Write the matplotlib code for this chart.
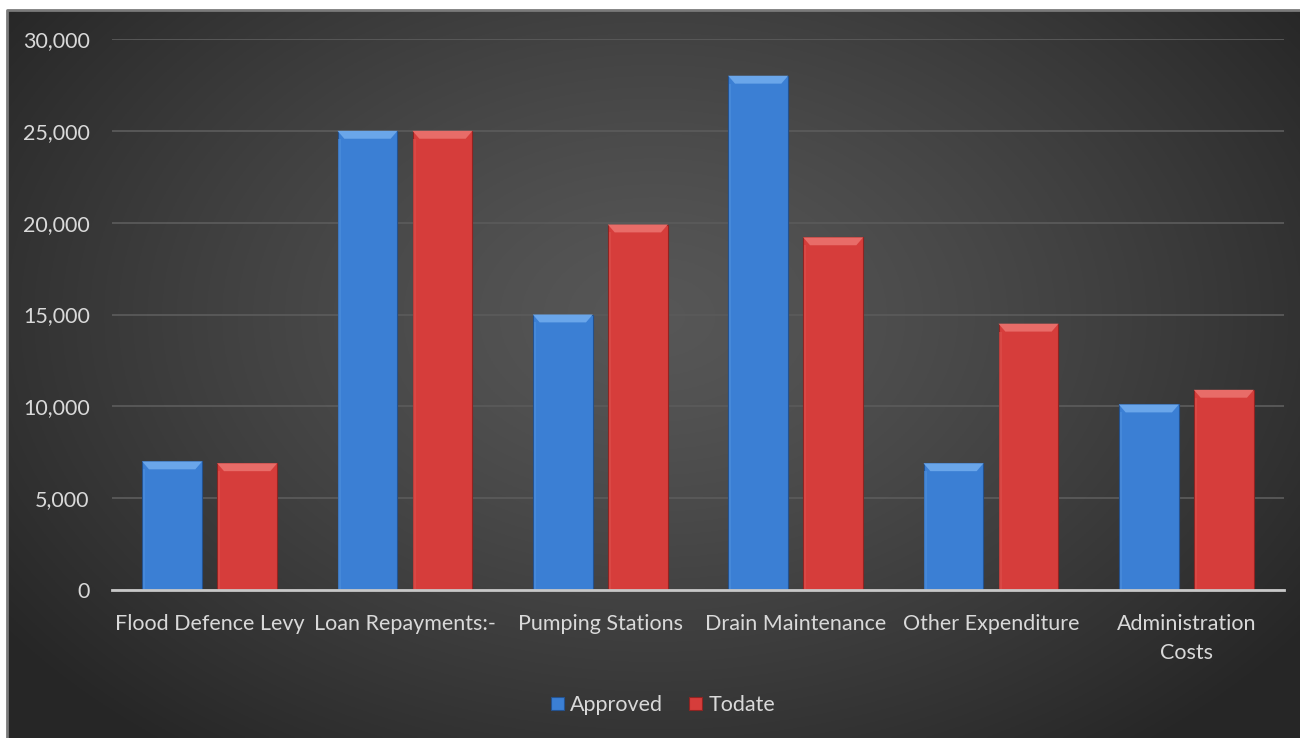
import numpy as np
import matplotlib
matplotlib.use("Agg")
import matplotlib.pyplot as plt
from matplotlib.patches import Polygon, Rectangle
from matplotlib.ticker import FuncFormatter

categories = ["Flood Defence Levy", "Loan Repayments:-", "Pumping Stations",
              "Drain Maintenance", "Other Expenditure", "Administration\nCosts"]
approved = [7000, 25000, 15000, 28000, 6900, 10100]
todate = [6900, 25000, 19900, 19200, 14500, 10900]
series_names = ["Approved", "Todate"]
yticks = [0, 5000, 10000, 15000, 20000, 25000, 30000]

plt.rcParams['font.family'] = ['Lato', 'DejaVu Sans']
TXT = "#d9d9d9"

fig = plt.figure(figsize=(13, 7.38), dpi=100)
fig.patch.set_facecolor("white")

# background panel with radial gradient
bg = fig.add_axes([7/1300, 0, 1 - 7/1300, 1 - 10/738])
bg.set_axis_off()
h, w = 400, 700
yy, xx = np.mgrid[0:h, 0:w]
cx, cy = w * 0.5, h * 0.42
r = np.sqrt(((xx - cx) / (w * 0.62)) ** 2 + ((yy - cy) / (h * 0.75)) ** 2)
r = np.clip(r, 0, 1)
v = 0.34 - (0.34 - 0.15) * r ** 1.3
img = np.dstack([v, v, v])
bg.imshow(img, aspect="auto", extent=[0, 1, 0, 1], origin="upper")
bg.set_xlim(0, 1); bg.set_ylim(0, 1)
bg.plot([0, 0, 1], [0, 1, 1], color="#7a7a7a", lw=2, transform=bg.transAxes, clip_on=False)

ax = fig.add_axes([112/1300, 1 - 590/738, (1284 - 112)/1300, (590 - 39)/738])
ax.patch.set_alpha(0)
x = np.arange(len(categories))
bw = 0.307
off = 0.192
b1 = ax.bar(x - off, approved, bw, color="#3b7fd4", edgecolor="#24528f", lw=0.8, zorder=3)
b2 = ax.bar(x + off, todate, bw, color="#d63d3b", edgecolor="#8f2422", lw=0.8, zorder=3)

ax.set_ylim(0, 30000)
ax.set_xlim(-0.5, len(categories) - 0.5)
ax.set_yticks(yticks)
ax.yaxis.set_major_formatter(FuncFormatter(lambda v, p: f"{int(v):,}"))
ax.set_xticks(x)
ax.set_xticklabels(categories, color=TXT, fontsize=15.5, linespacing=1.6)
ax.tick_params(axis="y", colors=TXT, labelsize=15.5, length=0, pad=16)
ax.tick_params(axis="x", length=0, pad=17)
for s in ["top", "right", "left"]:
    ax.spines[s].set_visible(False)
ax.spines["bottom"].set_color("#c8c8c8")
ax.spines["bottom"].set_linewidth(2)
ax.spines["bottom"].set_zorder(4)
ax.grid(axis="y", color="#5a5a5a", lw=1.3, zorder=0)
ax.set_axisbelow(True)

# bevel effect on bar tops
bev_y = 430
bev_x = 0.035
for bars, light, side in [(b1, "#6aa6ea", "#4e90de"), (b2, "#e86c68", "#dd504d")]:
    for rect in bars:
        x0 = rect.get_x(); x1 = x0 + rect.get_width(); top = rect.get_height()
        ax.add_patch(Polygon([[x0, top], [x1, top], [x1 - bev_x, top - bev_y], [x0 + bev_x, top - bev_y]],
                             closed=True, color=light, lw=0, zorder=4))
        ax.add_patch(Rectangle((x0 + 0.004, 0), 0.012, top - bev_y, color=side, lw=0, zorder=4, alpha=0.6))

leg = fig.legend([b1, b2], series_names, loc="center", bbox_to_anchor=(663/1300, 1 - 705/738),
                 ncol=2, frameon=False, fontsize=15.5, handlelength=0.6, handleheight=0.6,
                 handletextpad=0.3, columnspacing=1.2)
for t in leg.get_texts():
    t.set_color(TXT)

fig.savefig("out.png", dpi=100, facecolor=fig.get_facecolor())
